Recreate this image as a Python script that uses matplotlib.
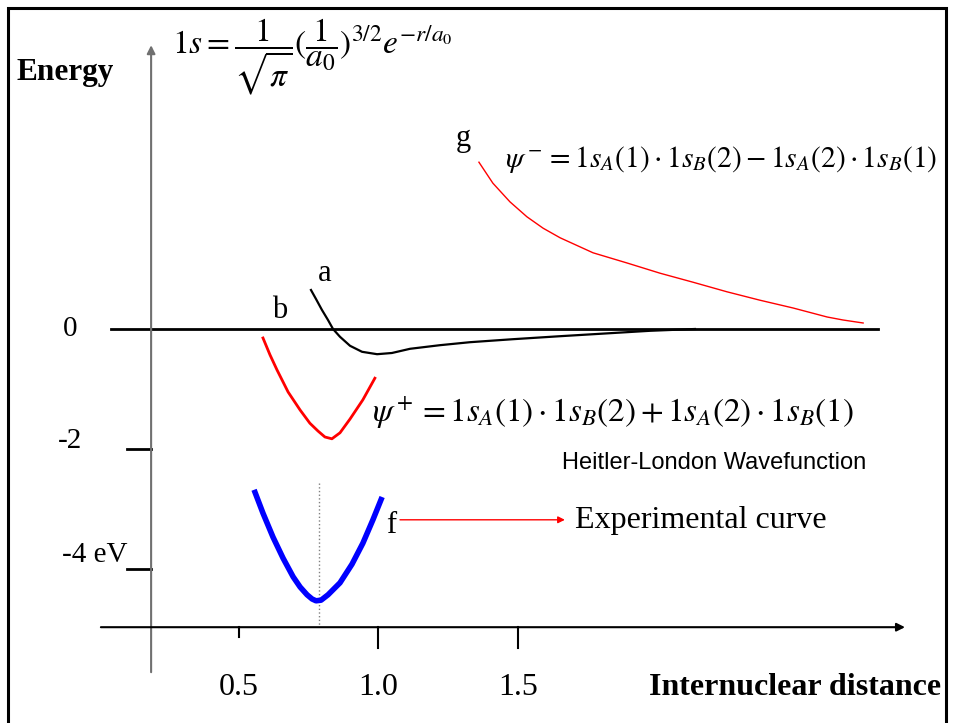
import matplotlib
matplotlib.use("Agg")
import matplotlib.pyplot as plt
from matplotlib.patches import Rectangle

plt.rcParams["font.family"] = ["Liberation Serif", "DejaVu Serif"]
plt.rcParams["mathtext.fontset"] = "stix"

# curve data: internuclear distance vs energy (eV)
f_r = [0.554, 0.586, 0.622, 0.658, 0.694, 0.719, 0.744, 0.762, 0.776, 0.794,
       0.819, 0.862, 0.905, 0.944, 0.980, 1.013]
f_e = [-2.68, -3.07, -3.47, -3.82, -4.13, -4.30, -4.43, -4.50, -4.53, -4.52,
       -4.43, -4.23, -3.92, -3.57, -3.18, -2.80]

b_r = [0.586, 0.611, 0.636, 0.676, 0.719, 0.754, 0.783, 0.808, 0.833, 0.862,
       0.898, 0.944, 0.987]
b_e = [-0.15, -0.43, -0.68, -1.05, -1.35, -1.57, -1.70, -1.80, -1.83, -1.73,
       -1.50, -1.18, -0.82]

a_r = [0.758, 0.776, 0.797, 0.819, 0.837, 0.862, 0.898, 0.941, 0.995, 1.048,
       1.113, 1.220, 1.328, 1.482, 1.651, 1.794, 1.973, 2.134]
a_e = [0.65, 0.50, 0.32, 0.15, 0.00, -0.13, -0.28, -0.38, -0.42, -0.40,
       -0.33, -0.27, -0.22, -0.17, -0.12, -0.08, -0.03, 0.00]

g_r = [1.360, 1.410, 1.471, 1.532, 1.590, 1.651, 1.769, 1.891, 2.009, 2.127,
       2.249, 2.367, 2.486, 2.608, 2.665, 2.737]
g_e = [2.78, 2.43, 2.12, 1.87, 1.68, 1.52, 1.27, 1.10, 0.93, 0.78,
       0.62, 0.48, 0.35, 0.20, 0.15, 0.10]

r_min = 0.787
x_ticks = [0.5, 1.0, 1.5]
x_tick_len = [0.16, 0.35, 0.35]
x_labels = ["0.5", "1.0", "1.5"]
y_ticks = [-2, -4]

fig = plt.figure(figsize=(9.54, 7.23), dpi=100)
ax = fig.add_axes([0, 0, 1, 1])
ax.set_xlim(-0.3566, 3.0627)
ax.set_ylim(-6.5667, 5.4833)
ax.axis("off")

# frame
fig.patches.append(Rectangle((8/954, -0.02), 938/954, 1 - 8/723 + 0.02,
                             transform=fig.transFigure, fill=False,
                             edgecolor="black", linewidth=2.2))

# axes
y0 = -4.97
ax.annotate("", xy=(0.185, 4.73), xytext=(0.185, -5.72),
            arrowprops=dict(arrowstyle="-|>", color="#707070", lw=1.5,
                            mutation_scale=12, shrinkA=0, shrinkB=0))
ax.annotate("", xy=(2.887, y0), xytext=(0.005, y0),
            arrowprops=dict(arrowstyle="-|>", color="black", lw=1.5,
                            mutation_scale=12, shrinkA=0, shrinkB=0))
ax.plot([0.041, 2.790], [0, 0], color="black", lw=2)
for t, l in zip(x_ticks, x_tick_len):
    ax.plot([t, t], [y0, y0 - l], color="black", lw=1.5)
for t in y_ticks:
    ax.plot([0.099, 0.185], [t, t], color="black", lw=2)
ax.plot([r_min, r_min], [-2.57, y0], color="gray", lw=1, linestyle=":")

# curves
ax.plot(f_r, f_e, color="blue", lw=4, solid_joinstyle="round", solid_capstyle="butt")
ax.plot(b_r, b_e, color="red", lw=2, solid_joinstyle="round")
ax.plot(a_r, a_e, color="black", lw=1.6, solid_joinstyle="round")
ax.plot(g_r, g_e, color="red", lw=1, solid_joinstyle="round")

ax.annotate("", xy=(1.668, -3.18), xytext=(1.077, -3.18),
            arrowprops=dict(arrowstyle="-|>", color="red", lw=1,
                            mutation_scale=10, shrinkA=0, shrinkB=0))

# texts
ax.text(-0.124, 4.28, "Energy", fontsize=22.5, fontweight="bold", ha="center", va="center")
ax.text(0.260, 4.53, r"$1s=\dfrac{1}{\sqrt{\pi}}(\dfrac{1}{a_0})^{3/2}e^{-r/a_0}$",
        fontsize=24, ha="left", va="center")
ax.text(1.303, 3.18, "g", fontsize=22, ha="center", va="center")
ax.text(1.453, 2.82, r"$\psi^- = 1s_A(1)\cdot 1s_B(2) - 1s_A(2)\cdot 1s_B(1)$",
        fontsize=21.3, ha="left", va="center")
ax.text(0.808, 0.93, "a", fontsize=22, ha="center", va="center")
ax.text(0.647, 0.30, "b", fontsize=22, ha="center", va="center")
ax.text(-0.106, 0, "0", fontsize=21, ha="center", va="center")
ax.text(-0.106, -1.87, "-2", fontsize=21, ha="center", va="center")
ax.text(0.102, -3.77, "-4 eV", fontsize=21, ha="right", va="center")
ax.text(0.977, -1.40, r"$\psi^+ = 1s_A(1)\cdot 1s_B(2) + 1s_A(2)\cdot 1s_B(1)$",
        fontsize=23.8, ha="left", va="center")
ax.text(2.203, -2.23, "Heitler-London Wavefunction", fontsize=17,
        family=["Liberation Sans", "DejaVu Sans"], ha="center", va="center")
ax.text(1.045, -3.27, "f", fontsize=22, ha="center", va="center")
ax.text(1.704, -3.20, "Experimental curve", fontsize=23, ha="left", va="center")
for t, s in zip(x_ticks, x_labels):
    ax.text(t, -5.98, s, fontsize=23, ha="center", va="center")
ax.text(2.493, -5.98, "Internuclear distance", fontsize=23, fontweight="bold",
        ha="center", va="center")

fig.savefig("out.png", dpi=100)
